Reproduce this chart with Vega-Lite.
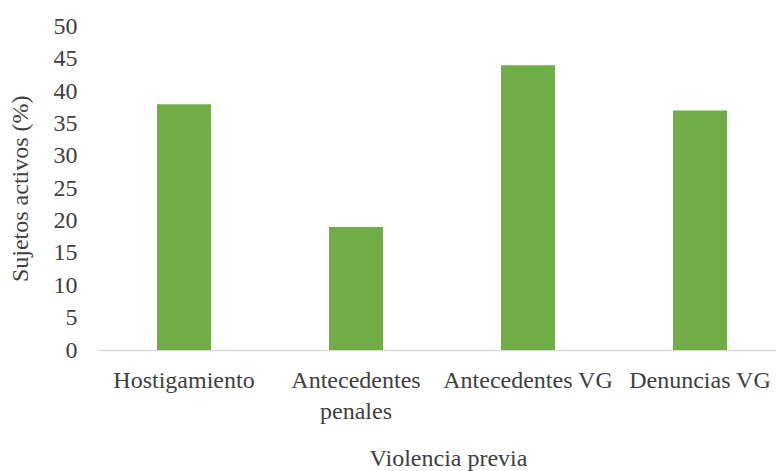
{
  "$schema": "https://vega.github.io/schema/vega-lite/v6.json",
  "autosize": {"type": "none"},
  "padding": {"left": 98, "top": 26.5, "right": 0, "bottom": 121},
  "width": 678,
  "height": 323.5,
  "background": "white",
  "config": {
    "view": {"stroke": null},
    "font": "'Liberation Serif', serif",
    "axis": {"labelFont": "'Liberation Serif', serif", "titleFont": "'Liberation Serif', serif", "labelColor": "#404040", "titleColor": "#404040", "titleFontWeight": "normal"}
  },
  "data": {
    "values": [
      {"categoria": "Hostigamiento", "valor": 38},
      {"categoria": "Antecedentes penales", "valor": 19},
      {"categoria": "Antecedentes VG", "valor": 44},
      {"categoria": "Denuncias VG", "valor": 37}
    ]
  },
  "mark": {"type": "bar", "color": "#70AD47"},
  "encoding": {
    "x": {
      "field": "categoria",
      "type": "nominal",
      "sort": null,
      "scale": {"paddingInner": 0.686, "paddingOuter": 0.343, "range": [0, 688]},
      "axis": {
        "title": "Violencia previa",
        "titleFontSize": 24,
        "titlePadding": 23,
        "titleX": 350,
        "labelFontSize": 24,
        "labelAngle": 0,
        "labelPadding": 18,
        "labelLineHeight": 31,
        "labelExpr": "datum.label == 'Antecedentes penales' ? ['Antecedentes', 'penales'] : datum.label",
        "ticks": false,
        "domainColor": "#d9d9d9",
        "domainWidth": 1.5,
        "labelLimit": 300,
        "labelOverlap": false
      }
    },
    "y": {
      "field": "valor",
      "type": "quantitative",
      "scale": {"domain": [0, 50], "nice": false},
      "axis": {
        "title": "Sujetos activos (%)",
        "titleFontSize": 24,
        "titlePadding": 21,
        "labelFontSize": 24,
        "labelPadding": 21,
        "values": [0, 5, 10, 15, 20, 25, 30, 35, 40, 45, 50],
        "grid": false,
        "domain": false,
        "ticks": false
      }
    }
  }
}
